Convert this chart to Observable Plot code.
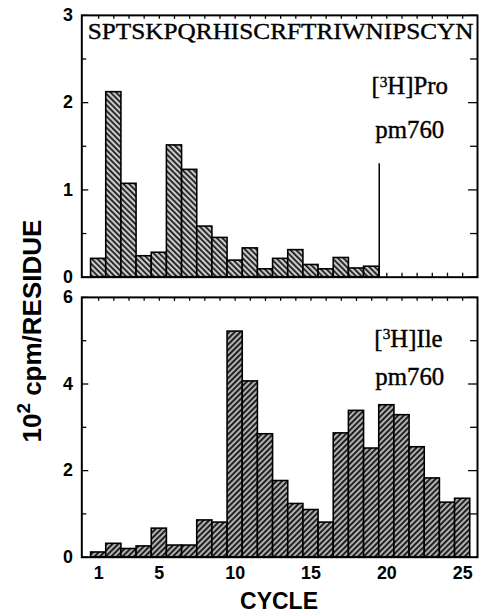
<!DOCTYPE html>
<html><head><meta charset="utf-8">
<script src="https://cdn.jsdelivr.net/npm/d3@7"></script>
<script src="https://cdn.jsdelivr.net/npm/@observablehq/plot@0.6"></script>
<style>
body{margin:0;background:#fff;overflow:hidden}
#wrap{position:relative;width:479px;height:615px;overflow:hidden;background:#fff}
#wrap svg{position:absolute;left:0}
.lab{position:absolute;font-family:"Liberation Sans",Arial,sans-serif;font-weight:bold;color:#000;white-space:nowrap}
</style></head><body><div id="wrap"></div>
<script>
// ---- data ----
const cycles = [1,2,3,4,5,6,7,8,9,10,11,12,13,14,15,16,17,18,19,20,21,22,23,24,25];
const proCycles = [1,2,3,4,5,6,7,8,9,10,11,12,13,14,15,16,17,18,19];
const proValues = [0.21,2.12,1.07,0.24,0.28,1.51,1.23,0.58,0.45,0.19,0.33,0.09,0.21,0.31,0.14,0.09,0.22,0.10,0.12];
const ileValues = [0.11,0.31,0.19,0.25,0.66,0.27,0.27,0.85,0.80,5.21,4.06,2.84,1.76,1.23,1.09,0.80,2.86,3.38,2.51,3.51,3.28,2.54,1.82,1.26,1.35];
const sequence = ["S","P","T","S","K","P","Q","R","H","I","S","C","R","F","T","R","I","W","N","I","P","S","C","Y","N"];
const proYTicks = [0,1,2,3];
const proYMinor = [0.5,1.5,2.5];
const ileYTicks = [0,2,4,6];
const ileYMinor = [1,3,5];
const xTickLabels = [1,5,10,15,20,25];
const proMarker = [{cycle:19.5, value:1.3}];

const proData = proCycles.map((c,i)=>({cycle:c, value:proValues[i]}));
const ileData = cycles.map((c,i)=>({cycle:c, value:ileValues[i]}));

const W = 483, ML = 82, MR = 2;
const xDom = [-0.11, 25.98];
const pxX = (W-ML-MR)/(xDom[1]-xDom[0]);
const serif = {lineAnchor:"top", textAnchor:"start", fontFamily:"Liberation Serif", fill:"black", stroke:"black", strokeWidth:0.4};

function panel(o){
  const pxY = (o.height-o.marginTop-o.marginBottom)/o.yMax;
  const marks = [
    Plot.ruleX(cycles, {x:d=>d, y1:o.yMax, y2:o.yMax-4/pxY, stroke:"black", strokeWidth:1.3}),
    Plot.ruleX(cycles, {x:d=>d, y1:0, y2:4/pxY, stroke:"black", strokeWidth:1.3}),
    Plot.ruleY(o.yTicks, {y:d=>d, x1:xDom[0], x2:xDom[0]+7/pxX, stroke:"black", strokeWidth:1.3}),
    Plot.ruleY(o.yMinor, {y:d=>d, x1:xDom[0], x2:xDom[0]+5/pxX, stroke:"black", strokeWidth:1.3}),
    Plot.ruleY(o.yTicks, {y:d=>d, x1:xDom[1]-9/pxX, x2:xDom[1], stroke:"black", strokeWidth:1.3}),
    Plot.ruleY(o.yMinor, {y:d=>d, x1:xDom[1]-7/pxX, x2:xDom[1], stroke:"black", strokeWidth:1.3}),
    Plot.rectY(o.data, {x1:d=>d.cycle-0.5, x2:d=>d.cycle+0.5, y:"value", fill:`url(#${o.pid})`, stroke:"black", strokeWidth:1.6}),
    ...(o.extra||[]),
    Plot.axisY(o.yTicks, {tickSize:0, tickPadding:9, label:null, tickFormat:d=>String(d), fontSize:18, fontWeight:"bold", fontFamily:"Liberation Sans"}),
    Plot.frame({stroke:"black", strokeWidth:2})
  ];
  const svg = Plot.plot({
    width:W, height:o.height, marginLeft:ML, marginRight:MR, marginTop:o.marginTop, marginBottom:o.marginBottom,
    x:{type:"linear", domain:xDom, axis:null},
    y:{type:"linear", domain:[0,o.yMax], axis:null},
    style:{fontFamily:"Liberation Sans", background:"transparent", overflow:"visible"},
    marks
  });
  const ns = "http://www.w3.org/2000/svg";
  const defs = document.createElementNS(ns,"defs");
  defs.innerHTML = `<pattern id="${o.pid}" patternUnits="userSpaceOnUse" width="4" height="4" patternTransform="rotate(${o.rot})">
     <rect width="4" height="4" fill="${o.bg}"/><rect x="0" y="0" width="${o.lw}" height="4" fill="#111"/></pattern>`;
  svg.insertBefore(defs, svg.firstChild);
  svg.style.top = o.top+"px";
  // raise the isotope superscript
  svg.querySelectorAll("text").forEach(t=>{
    const s = t.textContent;
    if (s.startsWith("[³H]")) {
      const rest = s.slice(4);
      t.textContent = "";
      const a = document.createElementNS(ns,"tspan"); a.textContent = "[";
      const b = document.createElementNS(ns,"tspan"); b.textContent = "3"; b.setAttribute("dy","-0.5em"); b.setAttribute("font-size","0.62em");
      const c = document.createElementNS(ns,"tspan"); c.textContent = "H]"+rest; c.setAttribute("dy","0.31em");
      t.append(a,b,c);
    }
  });
  return svg;
}

const wrap = document.getElementById("wrap");

const top1 = panel({
  data:proData, yMax:3, yTicks:proYTicks, yMinor:proYMinor, pid:"hatchPro", rot:-45, bg:"#cbcbcb", lw:1.7,
  height:290, marginTop:15, marginBottom:11, top:0,
  extra:[
    Plot.ruleX(proMarker, {x:"cycle", y1:0, y2:"value", stroke:"black", strokeWidth:1.5}),
    Plot.text([sequence.join("")], {...serif, frameAnchor:"top-left", dx:6, dy:7, fontSize:24}),
    Plot.text(["[³H]Pro"], {...serif, frameAnchor:"top-left", dx:292, dy:62, fontSize:25}),
    Plot.text(["pm760"], {...serif, frameAnchor:"top-left", dx:296, dy:106, fontSize:25})
  ]
});
wrap.appendChild(top1);
top1.querySelectorAll("text").forEach(t=>{
  if (t.textContent === sequence.join("")) { t.setAttribute("textLength", 389); t.setAttribute("lengthAdjust","spacingAndGlyphs"); }
});

const bot = panel({
  data:ileData, yMax:6, yTicks:ileYTicks, yMinor:ileYMinor, pid:"hatchIle", rot:45, bg:"#b0b0b0", lw:1.8,
  height:330, marginTop:12, marginBottom:56, top:285,
  extra:[
    Plot.axisX(xTickLabels, {tickSize:0, tickPadding:9, label:null, fontSize:18, fontWeight:"bold", fontFamily:"Liberation Sans"}),
    Plot.text(["[³H]Ile"], {...serif, frameAnchor:"top-left", dx:295, dy:32, fontSize:25}),
    Plot.text(["pm760"], {...serif, frameAnchor:"top-left", dx:296, dy:71, fontSize:25})
  ]
});
wrap.appendChild(bot);

const cyc = document.createElement("div");
cyc.className = "lab"; cyc.textContent = "CYCLE";
cyc.style.cssText += "left:279px;top:601px;transform:translate(-50%,-50%);font-size:23px;";
wrap.appendChild(cyc);

const yl = document.createElement("div");
yl.className = "lab";
yl.innerHTML = '10<sup style="font-size:0.72em;vertical-align:0.55em;line-height:0">2</sup> cpm/RESIDUE';
yl.style.cssText += "left:32px;top:331px;transform:translate(-50%,-50%) rotate(-90deg);font-size:26px;";
wrap.appendChild(yl);
</script></body></html>
